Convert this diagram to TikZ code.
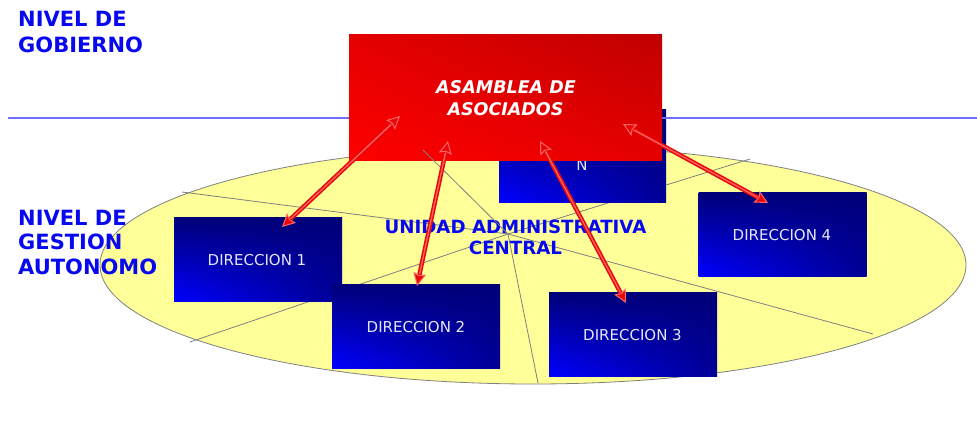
\documentclass[tikz,border=0pt]{standalone}
\usepackage{fontspec}
\setmainfont{DejaVu Sans}
\usetikzlibrary{arrows.meta,shapes.geometric,shadings}
\definecolor{lvl}{RGB}{8,8,240}
\definecolor{hline}{RGB}{110,110,255}
\definecolor{ellfill}{RGB}{255,255,153}
\definecolor{spoke}{RGB}{128,128,128}
\definecolor{dbl}{RGB}{0,0,255}
\definecolor{dbm}{RGB}{0,0,150}
\definecolor{dbn}{RGB}{0,0,120}
\definecolor{rll}{RGB}{255,0,0}
\definecolor{rlm}{RGB}{228,0,0}
\definecolor{rur}{RGB}{192,0,0}
\definecolor{dtext}{RGB}{230,230,255}
\definecolor{arrred}{RGB}{232,8,8}
\definecolor{arrhl}{RGB}{255,100,100}
\tikzset{
  lvltext/.style={anchor=base west, inner sep=0, text=lvl, font=\bfseries\fontsize{21}{24}\selectfont},
  dbox/.style={rectangle, inner sep=0, shade, lower left=dbl, upper right=dbn, upper left=dbn, lower right=dbm, minimum width=168pt, minimum height=84pt},
  dlabel/.style={anchor=base, inner sep=0, text=dtext, font=\fontsize{15}{18}\selectfont},
  spk/.style={draw=spoke, line width=0.8pt},
  arrtip/.style={},
  arr/.style={draw=arrred, line width=4.4pt,
    {Stealth[length=13pt,width=13pt,inset=2pt,color=arrhl,fill=arrred,line width=1pt]}-{Stealth[length=13pt,width=13pt,inset=2pt,color=arrhl,fill=arrred,line width=1pt]}},
  arrlight/.style={draw=arrhl, line width=1.3pt, shorten <=12pt, shorten >=12pt},
}
\begin{document}
\begin{tikzpicture}[x=1pt,y=-1pt]
\useasboundingbox (0,0) rectangle (977,431);
% ellipse zone
\node[ellipse, draw=spoke, line width=0.8pt, fill=ellfill, inner sep=0, minimum width=866pt, minimum height=238pt] (zone) at (533,265) {};
% level labels
\node[lvltext] (g1) at (18,27) {NIVEL DE};
\node[lvltext] (g2) at (18,52) {GOBIERNO};
\node[lvltext] (a1) at (18,225) {NIVEL DE};
\node[lvltext] (a2) at (18,249) {GESTION};
\node[lvltext] (a3) at (18,274) {AUTONOMO};
\coordinate (c) at (508,234);
\coordinate (s1) at (182,192);
\coordinate (s2) at (190,342);
\coordinate (s3) at (423,150);
\coordinate (s4) at (750,159);
\coordinate (s5) at (873,334);
\coordinate (s6) at (538,383);
\draw[spk] (c) -- (s1);
\draw[spk] (c) -- (s2);
\draw[spk] (c) -- (s4);
\draw[spk] (c) -- (s5);
\draw[spk] (c) -- (s6);
% central unit text
\node[anchor=base, inner sep=0, text=lvl, font=\bfseries\fontsize{18.2}{21}\selectfont] (u1) at (515.5,233) {UNIDAD ADMINISTRATIVA};
\node[anchor=base, inner sep=0, text=lvl, font=\bfseries\fontsize{18.2}{21}\selectfont] (u2) at (515.5,254) {CENTRAL};
% direction boxes
\node[dbox] (d1) at (258,259.5) {};
\node[dbox] (d2) at (416,326) {};
\node[dbox] (d3) at (633,334) {};
\node[dbox] (d4) at (782.5,234) {};
\node[dbox, minimum width=167pt, minimum height=93pt] (dn) at (582.5,155.5) {};
\node[dlabel] (t1) at (257,265) {DIRECCION 1};
\node[dlabel] (t2) at (416,332) {DIRECCION 2};
\node[dlabel] (t3) at (632.5,340) {DIRECCION 3};
\node[dlabel] (t4) at (782,240) {DIRECCION 4};
\node[dlabel] (tn) at (582,170) {N};
% horizontal level line
\coordinate (h0) at (8,118);
\coordinate (h1) at (977,118);
\draw[hline, line width=1.3pt] (h0) -- (h1);
% assembly box
\node[rectangle, inner sep=0, shade, lower left=rll, upper right=rur, upper left=rlm, lower right=rlm, minimum width=313pt, minimum height=126pt] (asm) at (505.5,97) {};
\node[anchor=base, inner sep=0, text=white, font=\bfseries\itshape\fontsize{17.5}{21}\selectfont] (as1) at (506,93) {ASAMBLEA DE};
\node[anchor=base, inner sep=0, text=white, font=\bfseries\itshape\fontsize{17.5}{21}\selectfont] (as2) at (505.5,115) {ASOCIADOS};
\draw[spk] (c) -- (s3);
% arrows
\coordinate (p1a) at (400,116);
\coordinate (p1b) at (282,227);
\coordinate (p2a) at (448,141);
\coordinate (p2b) at (417,286);
\coordinate (p3a) at (540,141);
\coordinate (p3b) at (626,303);
\coordinate (p4a) at (623,124);
\coordinate (p4b) at (768,203);
\foreach \u/\v in {p1a/p1b, p2a/p2b, p3a/p3b, p4a/p4b} {
  \draw[arr] (\u) -- (\v);
  \draw[arrlight] (\u) -- (\v);
}
\end{tikzpicture}
\end{document}
